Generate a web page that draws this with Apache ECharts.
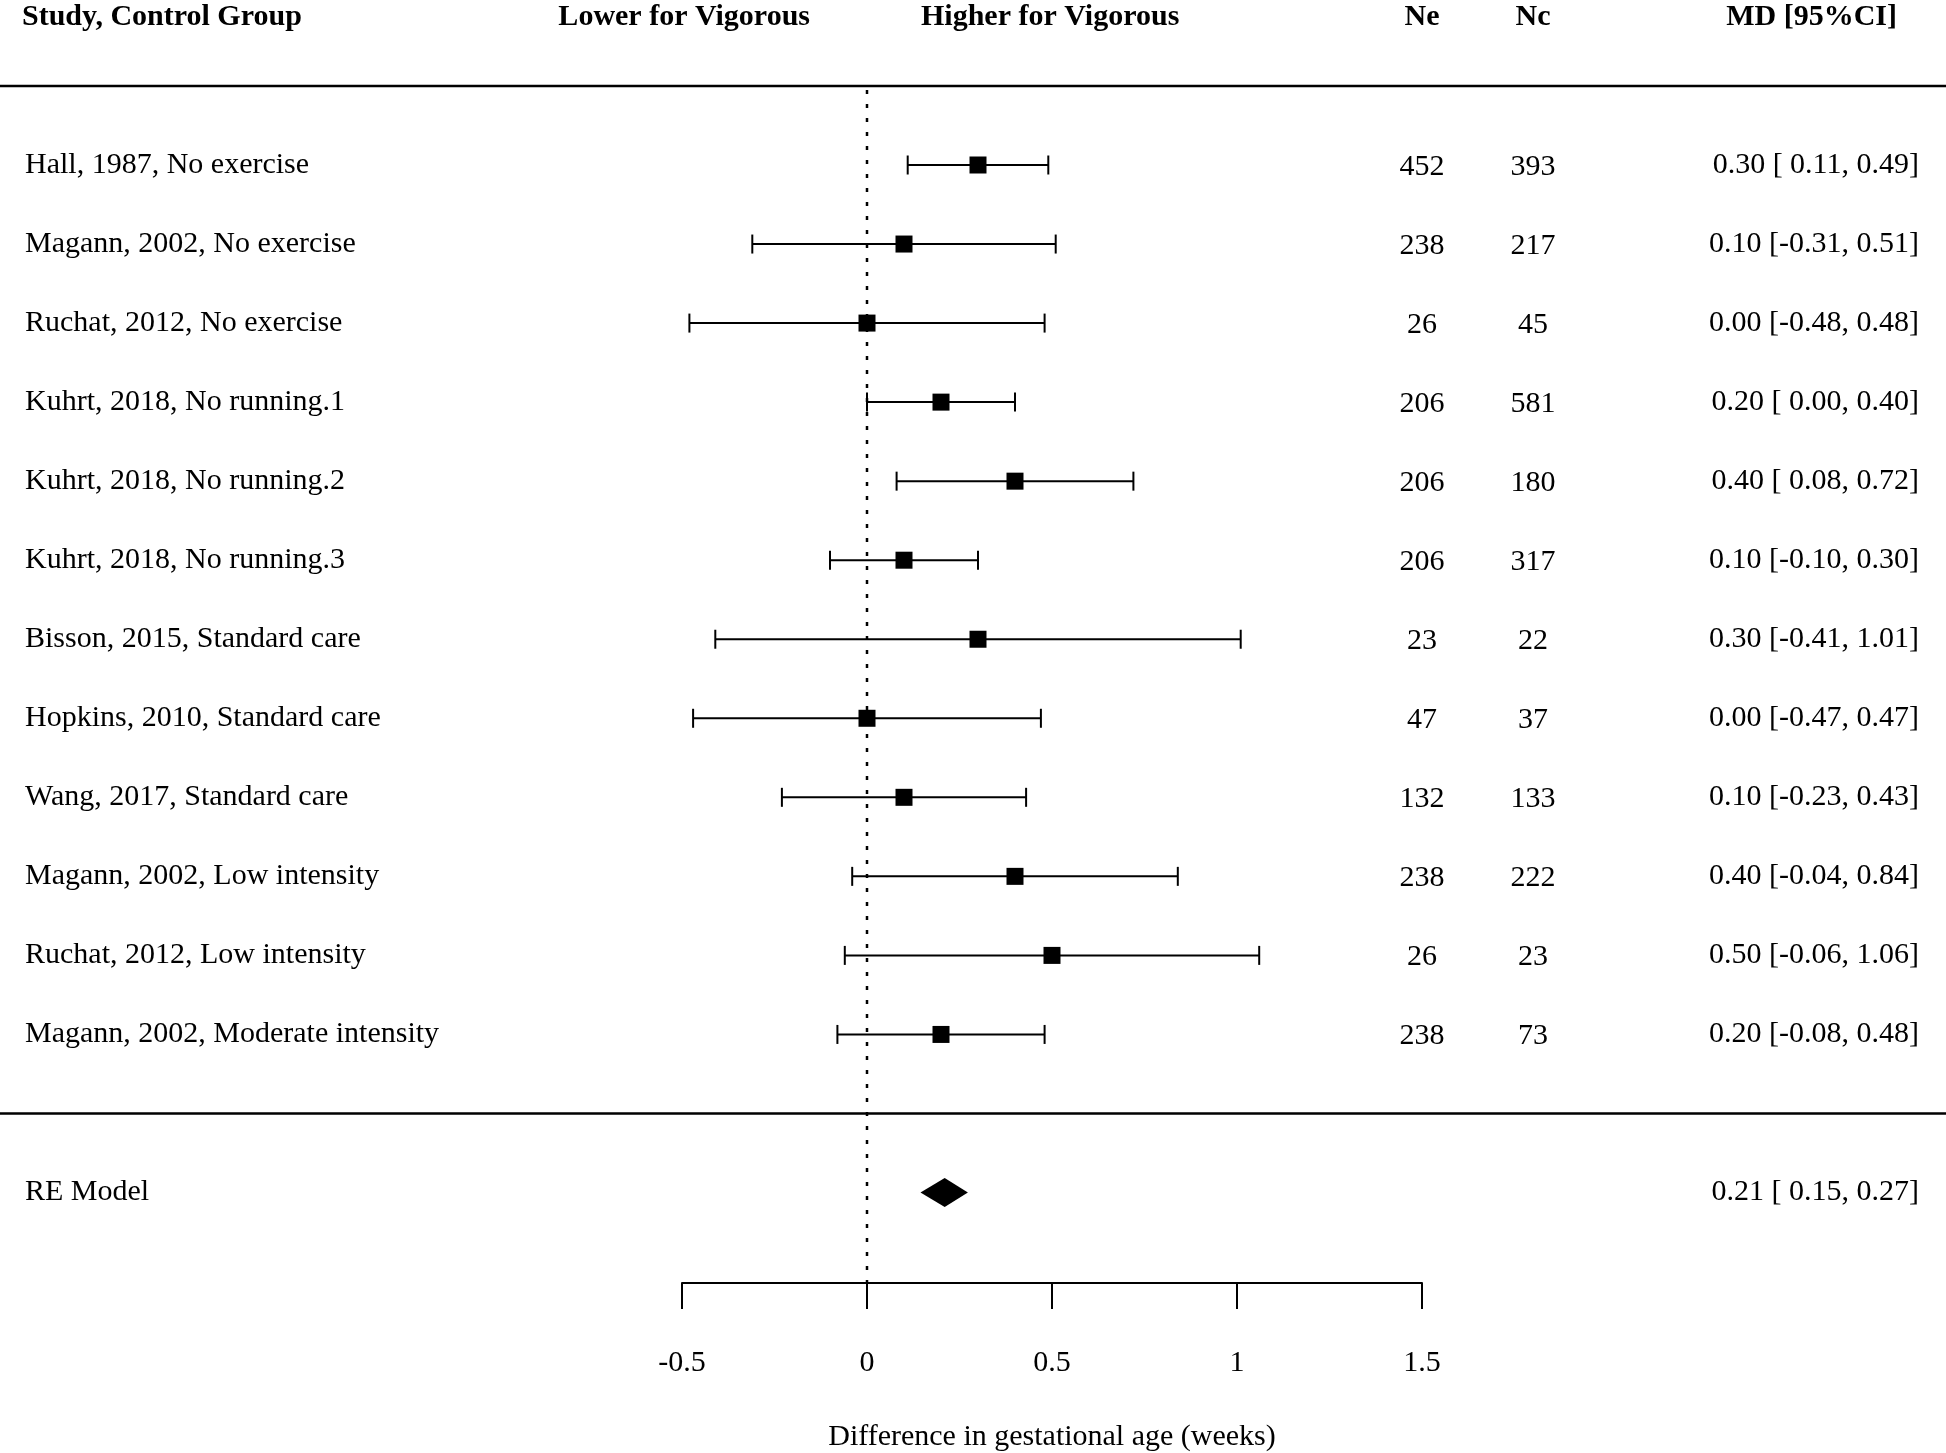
<!DOCTYPE html>
<html><head><meta charset="utf-8">
<script src="https://cdn.jsdelivr.net/npm/echarts@6/dist/echarts.min.js"></script>
<style>html,body{margin:0;padding:0;background:#fff}#c{width:1946px;height:1453px}</style>
</head><body><div id="c"></div>
<script>
// ---------------- data ----------------
const studies = [
  "Hall, 1987, No exercise",
  "Magann, 2002, No exercise",
  "Ruchat, 2012, No exercise",
  "Kuhrt, 2018, No running.1",
  "Kuhrt, 2018, No running.2",
  "Kuhrt, 2018, No running.3",
  "Bisson, 2015, Standard care",
  "Hopkins, 2010, Standard care",
  "Wang, 2017, Standard care",
  "Magann, 2002, Low intensity",
  "Ruchat, 2012, Low intensity",
  "Magann, 2002, Moderate intensity"
];
const ne = [452, 238, 26, 206, 206, 206, 23, 47, 132, 238, 26, 238];
const nc = [393, 217, 45, 581, 180, 317, 22, 37, 133, 222, 23, 73];
const est = [0.30, 0.10, 0.00, 0.20, 0.40, 0.10, 0.30, 0.00, 0.10, 0.40, 0.50, 0.20];
const ciLow = [0.11, -0.31, -0.48, 0.00, 0.08, -0.10, -0.41, -0.47, -0.23, -0.04, -0.06, -0.08];
const ciHigh = [0.49, 0.51, 0.48, 0.40, 0.72, 0.30, 1.01, 0.47, 0.43, 0.84, 1.06, 0.48];
const reLabel = "RE Model";
const reEst = [0.21];
const reLow = [0.15];
const reHigh = [0.27];
const xTicks = [-0.5, 0, 0.5, 1, 1.5];
const nullValue = 0;
const headerStudy = "Study, Control Group";
const headerLower = "Lower for Vigorous";
const headerHigher = "Higher for Vigorous";
const headerNe = "Ne";
const headerNc = "Nc";
const headerMD = "MD [95%CI]";
const axisTitle = "Difference in gestational age (weeks)";

// ---------------- layout ----------------
const W = 1946, H = 1453;
const X_ZERO = 867, PX_PER_UNIT = 370;
const K = studies.length;
const ROW_FIRST_Y = 165, ROW_PX = 79.04;           // pixel y of row K (first study)
const AXIS_Y = 1283;
const xMin = -X_ZERO / PX_PER_UNIT;
const xMax = (W - X_ZERO) / PX_PER_UNIT;
const yMax = K + ROW_FIRST_Y / ROW_PX;
const yMin = K - (H - ROW_FIRST_Y) / ROW_PX;
const axisRow = K - (AXIS_Y - ROW_FIRST_Y) / ROW_PX;
const reRow = -1;
const topLineRow = K + 1, bottomLineRow = 0;
const FONT = "'Liberation Serif', 'Times New Roman', serif";
const FS = 30;

const studyRows = studies.map((s, i) => K - i);

function fmt(v) { return (v < 0 ? "" : " ") + v.toFixed(2); }
function mdText(e, l, h) { return e.toFixed(2) + " [" + fmt(l) + "," + fmt(h) + "]"; }

const tableRows = studies.map((s, i) => ({
  row: studyRows[i], label: s, ne: String(ne[i]), nc: String(nc[i]),
  md: mdText(est[i], ciLow[i], ciHigh[i])
}));
tableRows.push({ row: reRow, label: reLabel, ne: "", nc: "", md: mdText(reEst[0], reLow[0], reHigh[0]) });

const chart = echarts.init(document.getElementById('c'), null, { renderer: 'canvas' });

function textSeries(field, xPix, align, dy) {
  return {
    type: 'custom', xAxisIndex: 0, yAxisIndex: 0, z: 5,
    data: tableRows.map(r => [0, r.row]),
    renderItem: function (params, api) {
      const r = tableRows[params.dataIndex];
      const p = api.coord([0, api.value(1)]);
      return {
        type: 'text',
        style: { x: xPix, y: p[1] + dy, text: r[field], align: align, verticalAlign: 'middle',
                 font: FS + 'px ' + FONT, fill: '#000' }
      };
    }
  };
}

function headerText(text, x, align) {
  return { type: 'text', x: x, y: 17, style: { text: text, x: 0, y: 0, align: align, verticalAlign: 'middle',
    font: 'bold ' + FS + 'px ' + FONT, fill: '#000' } };
}

const option = {
  backgroundColor: '#fff',
  animation: false,
  grid: [
    { left: 0, right: 0, top: 0, bottom: 0 },
    { left: X_ZERO + xTicks[0] * PX_PER_UNIT, width: (xTicks[xTicks.length - 1] - xTicks[0]) * PX_PER_UNIT,
      top: AXIS_Y - 100, height: 100 }
  ],
  xAxis: [
    { gridIndex: 0, type: 'value', min: xMin, max: xMax, show: false },
    { gridIndex: 1, type: 'value', min: xTicks[0], max: xTicks[xTicks.length - 1], interval: 0.5,
      position: 'bottom',
      axisLine: { show: true, lineStyle: { color: '#000', width: 2 } },
      axisTick: { show: true, length: 26, lineStyle: { color: '#000', width: 2 } },
      splitLine: { show: false },
      axisLabel: { show: true, margin: 65, color: '#000', fontSize: FS, fontFamily: FONT },
      name: axisTitle, nameLocation: 'middle', nameGap: 139,
      nameTextStyle: { color: '#000', fontSize: FS, fontFamily: FONT } }
  ],
  yAxis: [
    { gridIndex: 0, type: 'value', min: yMin, max: yMax, show: false },
    { gridIndex: 1, type: 'value', min: 0, max: 1, show: false }
  ],
  graphic: [
    headerText(headerStudy, 22, 'left'),
    headerText(headerLower, 810, 'right'),
    headerText(headerHigher, 921, 'left'),
    headerText(headerNe, 1422, 'center'),
    headerText(headerNc, 1533, 'center'),
    headerText(headerMD, 1897, 'right')
  ],
  series: [
    { // separators
      type: 'line', xAxisIndex: 0, yAxisIndex: 0, symbol: 'none', silent: true, z: 2,
      data: [[xMin, topLineRow], [xMax, topLineRow], [null, null], [xMin, bottomLineRow], [xMax, bottomLineRow]],
      connectNulls: false,
      lineStyle: { color: '#000', width: 2.6 }
    },
    { // null line
      type: 'line', xAxisIndex: 0, yAxisIndex: 0, symbol: 'none', silent: true, z: 1,
      data: [[nullValue, topLineRow], [nullValue, axisRow]],
      lineStyle: { color: '#000', width: 2.5, type: [4, 10], dashOffset: -4 }
    },
    { // study CIs
      type: 'custom', xAxisIndex: 0, yAxisIndex: 0, z: 3,
      encode: { x: [1, 2, 3], y: 0 },
      data: studies.map((s, i) => [studyRows[i], ciLow[i], ciHigh[i], est[i]]),
      renderItem: function (params, api) {
        const row = api.value(0);
        const pL = api.coord([api.value(1), row]);
        const pH = api.coord([api.value(2), row]);
        const pE = api.coord([api.value(3), row]);
        const cap = 9.5, sq = 17;
        const ls = { stroke: '#000', lineWidth: 2 };
        return { type: 'group', children: [
          { type: 'line', shape: { x1: pL[0], y1: pL[1], x2: pH[0], y2: pH[1] }, style: ls },
          { type: 'line', shape: { x1: pL[0], y1: pL[1] - cap, x2: pL[0], y2: pL[1] + cap }, style: ls },
          { type: 'line', shape: { x1: pH[0], y1: pH[1] - cap, x2: pH[0], y2: pH[1] + cap }, style: ls },
          { type: 'rect', shape: { x: pE[0] - sq / 2, y: pE[1] - sq / 2, width: sq, height: sq }, style: { fill: '#000' } }
        ] };
      }
    },
    { // RE diamond
      type: 'custom', xAxisIndex: 0, yAxisIndex: 0, z: 3,
      encode: { x: [1, 2, 3], y: 0 },
      data: reEst.map((e, i) => [reRow, reLow[i], reHigh[i], e]),
      renderItem: function (params, api) {
        const row = api.value(0);
        const pL = api.coord([api.value(1), row]);
        const pH = api.coord([api.value(2), row]);
        const pE = api.coord([api.value(3), row]);
        const hh = 14.5;
        return { type: 'polygon', shape: { points: [[pL[0] - 2, pL[1]], [pE[0], pE[1] - hh], [pH[0] + 1, pH[1]], [pE[0], pE[1] + hh]] },
                 style: { fill: '#000' } };
      }
    },
    textSeries('label', 25, 'left', 0),
    textSeries('ne', 1422, 'center', 2),
    textSeries('nc', 1533, 'center', 2),
    textSeries('md', 1919, 'right', 0)
  ]
};
chart.setOption(option);
</script>
</body></html>
